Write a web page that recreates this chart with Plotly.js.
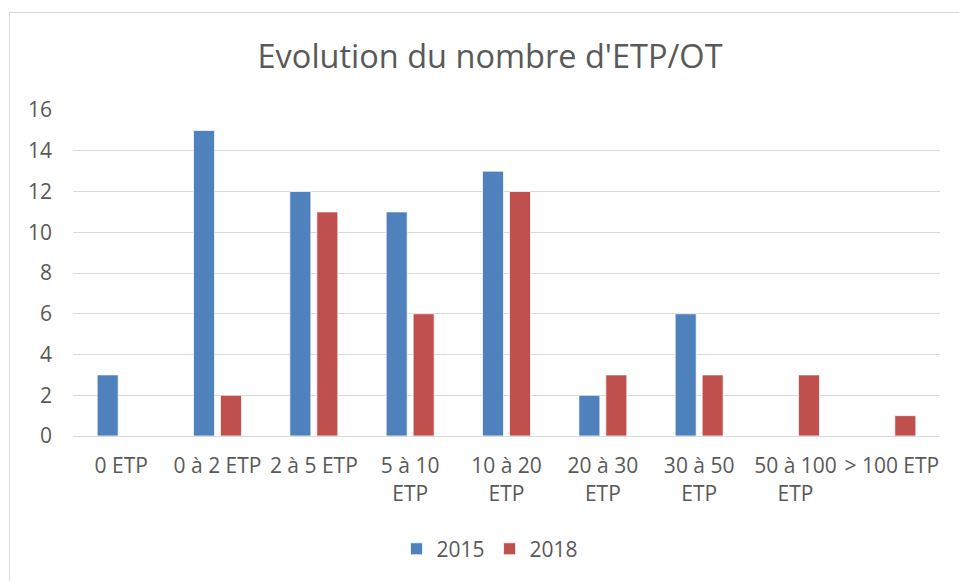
<!DOCTYPE html>
<html>
<head>
<meta charset="utf-8">
<script src="https://cdn.plot.ly/plotly-3.0.1.min.js"></script>
<style>
  html, body { margin: 0; padding: 0; background: #fff; }
  #wrap { position: relative; width: 959px; height: 581px; }
  #chart { width: 959px; height: 581px; }
  #frame { position: absolute; left: 9px; top: 12px; right: 0; bottom: 0;
           border-left: 1px solid #D9D9D9; border-top: 1px solid #D9D9D9; pointer-events: none; }
</style>
</head>
<body>
<div id="wrap">
  <div id="chart"></div>
  <div id="frame"></div>
</div>
<script>
const categories = ["0 ETP", "0 à 2 ETP", "2 à 5 ETP", "5 à 10<br>ETP", "10 à 20<br>ETP",
                    "20 à 30<br>ETP", "30 à 50<br>ETP", "50 à 100<br>ETP", "> 100 ETP"];
const values2015 = [3, 15, 12, 11, 13, 2, 6, 0, 0];
const values2018 = [0, 2, 11, 6, 12, 3, 3, 3, 1];
const yTicks = [0, 2, 4, 6, 8, 10, 12, 14, 16];

const FONT = "'Open Sans', 'Liberation Sans', sans-serif";
const TXT = "#595959";

const traces = [
  { type: "bar", name: "2015", x: categories, y: values2015,
    marker: { color: "#4F81BD", line: { color: "#ffffff", width: 0.75 } }, hoverinfo: "y" },
  { type: "bar", name: "2018", x: categories, y: values2018,
    marker: { color: "#C0504D", line: { color: "#ffffff", width: 0.75 } }, hoverinfo: "y" }
];

const layout = {
  width: 959, height: 581,
  margin: { l: 73, r: 19, t: 110, b: 145 },
  paper_bgcolor: "#ffffff", plot_bgcolor: "#ffffff",
  font: { family: FONT, color: TXT, size: 21 },
  title: { text: "Evolution du nombre d'ETP/OT", x: 0.511, xanchor: "center",
           y: 0.902, yanchor: "middle", font: { family: FONT, size: 32.5, color: TXT } },
  barmode: "group", bargap: 0.44, bargroupgap: 0.22,
  showlegend: true,
  legend: { orientation: "h", x: 0.481, xanchor: "center", y: -0.347, yanchor: "middle",
            font: { family: FONT, size: 21, color: TXT }, traceorder: "normal" },
  xaxis: { type: "category", showgrid: false, showline: true, linecolor: "#D9D9D9", linewidth: 1,
           ticks: "", tickfont: { family: FONT, size: 21, color: TXT }, ticklabelstandoff: 11,
           fixedrange: true, tickangle: 0 },
  yaxis: { range: [0, 16], tickvals: yTicks, ticktext: yTicks.map(String),
           showgrid: true, gridcolor: "#D9D9D9", gridwidth: 1, zeroline: false,
           showline: false, ticks: "", tickfont: { family: FONT, size: 21, color: TXT },
           ticklabelstandoff: 20, fixedrange: true }
};

Plotly.newPlot("chart", traces, layout, { displayModeBar: false, staticPlot: true });
</script>
</body>
</html>
